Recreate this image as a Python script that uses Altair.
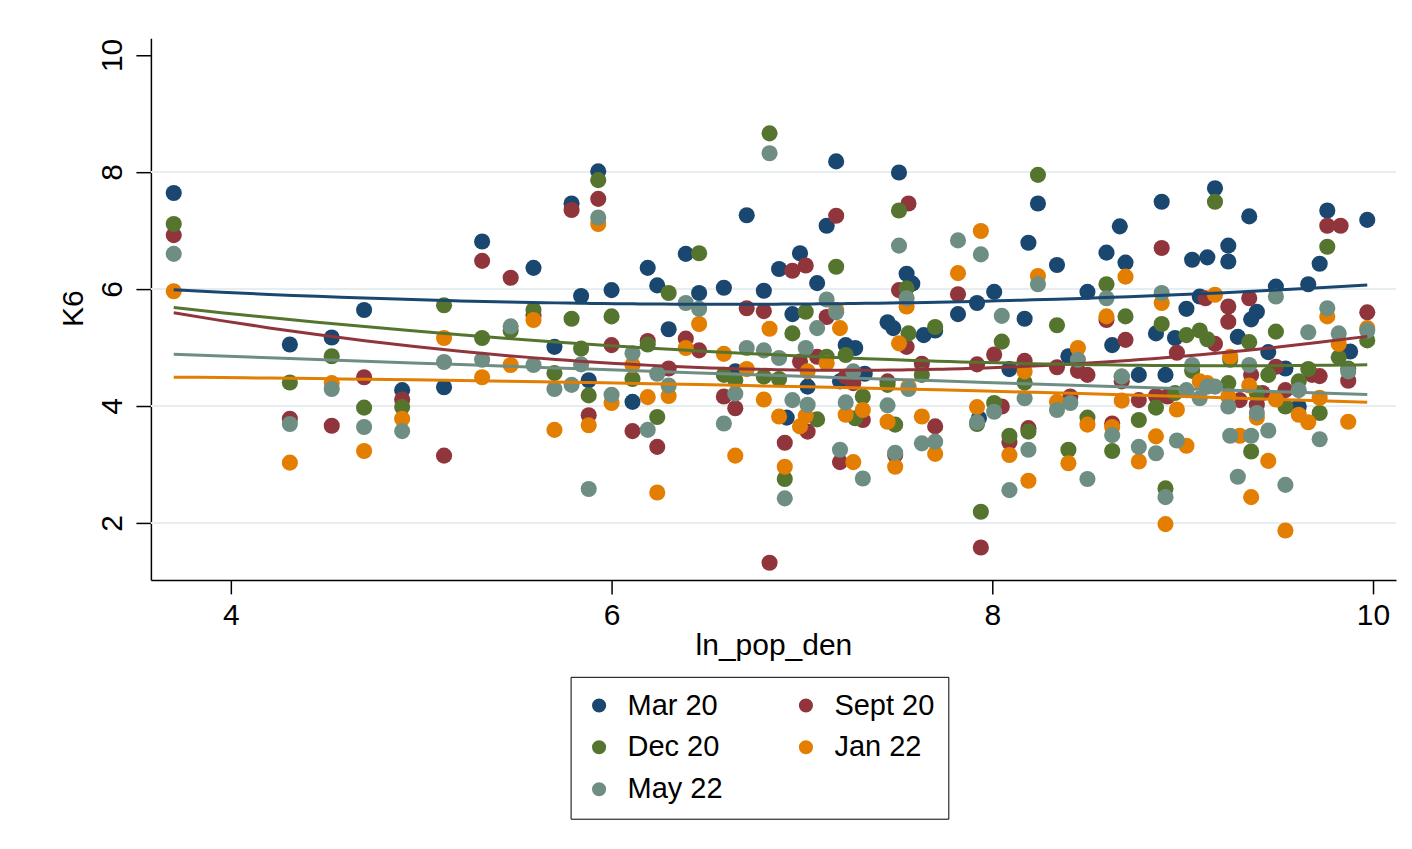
import altair as alt
import pandas as pd

FONT = "Liberation Sans, Arial, Helvetica, sans-serif"

series_names = ["Mar 20", "Sept 20", "Dec 20", "Jan 22", "May 22"]
series_colors = ["#1a476f", "#90353b", "#55752f", "#e37e00", "#6e8e84"]
# legend entries are laid out column by column: this order gives rows
# Mar 20 | Sept 20, Dec 20 | Jan 22, May 22
legend_order = ["Mar 20", "Dec 20", "May 22", "Sept 20", "Jan 22"]

x_ticks = [4, 6, 8, 10]
y_ticks = [2, 4, 6, 8, 10]
grid_levels = [2, 4, 6, 8]

mar20_x = [3.70, 4.31, 4.53, 4.70, 4.90, 5.12, 5.32, 5.59, 5.70, 5.79, 5.84, 5.88, 5.93, 6.00, 6.11, 6.19, 6.24,
           6.30, 6.39, 6.46, 6.59, 6.65, 6.71, 6.80, 6.88, 6.92, 6.95, 6.99, 7.03, 7.08, 7.13, 7.18, 7.20, 7.23,
           7.28, 7.33, 7.45, 7.48, 7.51, 7.55, 7.58, 7.64, 7.70, 7.82, 7.92, 7.93, 8.01, 8.09, 8.17, 8.19, 8.24,
           8.34, 8.40, 8.50, 8.60, 8.63, 8.67, 8.70, 8.77, 8.86, 8.89, 8.91, 8.96, 9.02, 9.05, 9.09, 9.13, 9.17,
           9.24, 9.24, 9.29, 9.35, 9.36, 9.39, 9.45, 9.49, 9.54, 9.61, 9.66, 9.72, 9.76, 9.88, 9.97]
mar20_y = [7.64, 5.05, 5.17, 5.64, 4.27, 4.32, 6.81, 6.36, 5.01, 7.46, 5.88, 4.44, 8.01, 5.98, 4.07, 6.36, 6.06,
           5.31, 6.60, 5.93, 6.02, 4.59, 7.26, 5.97, 6.34, 3.80, 5.57, 6.61, 4.33, 6.10, 7.08, 8.18, 4.42, 5.04,
           4.99, 4.55, 5.43, 5.33, 7.99, 6.26, 6.09, 5.21, 5.29, 5.57, 5.76, 3.79, 5.95, 4.63, 5.49, 6.79, 7.46,
           6.41, 4.85, 5.95, 6.62, 5.04, 7.07, 6.45, 4.53, 5.24, 7.49, 4.53, 5.16, 5.66, 6.50, 5.87, 6.54, 7.72,
           6.74, 6.47, 5.18, 7.24, 5.48, 5.61, 4.92, 6.04, 4.64, 3.99, 6.08, 6.43, 7.34, 4.93, 7.18]

sep20_x = [3.70, 4.31, 4.53, 4.70, 4.90, 5.12, 5.32, 5.47, 5.59, 5.79, 5.88, 5.93, 6.00, 6.11, 6.19, 6.24, 6.30,
           6.39, 6.46, 6.59, 6.65, 6.71, 6.80, 6.83, 6.91, 6.95, 6.99, 7.02, 7.03, 7.08, 7.13, 7.18, 7.20, 7.23,
           7.27, 7.32, 7.45, 7.49, 7.51, 7.55, 7.56, 7.63, 7.70, 7.82, 7.92, 7.94, 8.01, 8.05, 8.09, 8.17, 8.19,
           8.34, 8.41, 8.45, 8.50, 8.60, 8.63, 8.68, 8.70, 8.77, 8.86, 8.89, 8.92, 8.97, 9.12, 9.17, 9.24, 9.24,
           9.30, 9.35, 9.36, 9.39, 9.42, 9.49, 9.54, 9.68, 9.72, 9.76, 9.83, 9.87, 9.97]
sep20_y = [6.92, 3.78, 3.66, 4.49, 4.11, 3.15, 6.48, 6.19, 5.55, 7.35, 3.84, 7.54, 5.04, 3.57, 5.11, 3.30, 4.64,
           5.15, 4.95, 4.16, 3.96, 5.67, 5.62, 1.32, 3.37, 6.31, 4.76, 6.40, 3.56, 4.84, 5.52, 7.25, 3.04, 4.50,
           4.39, 3.76, 4.42, 3.16, 5.98, 5.01, 7.46, 4.72, 3.65, 5.91, 4.71, 1.58, 4.88, 3.99, 3.38, 4.77, 3.62,
           4.66, 4.16, 4.60, 4.53, 5.47, 3.70, 4.42, 5.13, 4.10, 4.17, 6.70, 4.16, 4.91, 5.84, 5.06, 5.70, 5.44,
           4.10, 5.84, 4.53, 4.02, 4.22, 4.67, 4.27, 4.53, 4.51, 7.08, 7.08, 4.43, 5.60]

dec20_x = [3.70, 4.31, 4.53, 4.70, 4.90, 5.12, 5.32, 5.47, 5.59, 5.70, 5.79, 5.84, 5.88, 5.93, 6.00, 6.11, 6.19,
           6.24, 6.30, 6.46, 6.59, 6.65, 6.80, 6.83, 6.88, 6.91, 6.95, 7.02, 7.08, 7.13, 7.18, 7.23, 7.28, 7.32,
           7.45, 7.49, 7.51, 7.55, 7.56, 7.63, 7.70, 7.92, 7.94, 8.01, 8.05, 8.09, 8.17, 8.19, 8.24, 8.34, 8.40,
           8.50, 8.60, 8.63, 8.68, 8.70, 8.77, 8.86, 8.89, 8.91, 8.96, 9.02, 9.05, 9.09, 9.13, 9.17, 9.24, 9.25,
           9.35, 9.36, 9.39, 9.45, 9.49, 9.54, 9.61, 9.66, 9.72, 9.76, 9.82, 9.87, 9.97]
dec20_y = [7.11, 4.40, 4.85, 3.97, 3.98, 5.72, 5.16, 5.29, 5.64, 4.56, 5.49, 4.98, 4.18, 7.86, 5.53, 4.46, 5.05,
           3.81, 5.93, 6.61, 4.53, 4.44, 4.50, 8.66, 4.46, 2.75, 5.24, 5.61, 3.77, 4.84, 6.38, 4.87, 3.79, 4.16,
           4.36, 3.68, 7.34, 6.01, 5.24, 4.53, 5.35, 3.69, 2.19, 4.05, 5.10, 3.49, 4.40, 3.56, 7.95, 5.38, 3.25,
           3.80, 6.08, 3.23, 4.50, 5.53, 3.76, 3.97, 5.40, 2.59, 4.22, 5.21, 4.60, 5.29, 5.14, 7.49, 4.39, 4.79,
           5.09, 3.22, 4.22, 4.53, 5.27, 3.99, 4.42, 4.63, 3.88, 6.72, 4.83, 4.64, 5.12]

jan22_x = [3.70, 4.31, 4.53, 4.70, 4.90, 5.12, 5.32, 5.47, 5.59, 5.70, 5.88, 5.93, 6.00, 6.11, 6.19, 6.24, 6.30,
           6.39, 6.46, 6.59, 6.65, 6.71, 6.80, 6.83, 6.88, 6.91, 6.99, 7.02, 7.03, 7.13, 7.18, 7.20, 7.23, 7.27,
           7.32, 7.45, 7.49, 7.51, 7.55, 7.56, 7.63, 7.70, 7.82, 7.92, 7.94, 8.09, 8.17, 8.19, 8.24, 8.34, 8.40,
           8.45, 8.50, 8.60, 8.63, 8.68, 8.70, 8.77, 8.86, 8.89, 8.91, 8.97, 9.02, 9.09, 9.13, 9.17, 9.24, 9.25,
           9.30, 9.35, 9.36, 9.39, 9.45, 9.49, 9.54, 9.61, 9.66, 9.72, 9.76, 9.82, 9.87, 9.97]
jan22_y = [5.96, 3.03, 4.39, 3.23, 3.78, 5.16, 4.49, 4.70, 5.47, 3.59, 3.67, 7.11, 4.05, 4.70, 4.15, 2.52, 4.17,
           4.99, 5.40, 4.89, 3.15, 4.63, 4.11, 5.32, 3.82, 2.96, 3.65, 3.83, 4.59, 4.73, 5.64, 5.33, 3.85, 3.04,
           3.93, 3.73, 2.96, 5.07, 5.70, 4.33, 3.82, 3.18, 6.27, 3.98, 6.99, 3.16, 4.59, 2.72, 6.22, 4.07, 3.02,
           4.99, 3.68, 5.53, 3.64, 4.09, 6.21, 3.05, 3.48, 5.76, 1.98, 3.94, 3.32, 4.42, 4.39, 5.90, 4.16, 4.84,
           3.49, 4.35, 2.44, 3.80, 3.06, 4.11, 1.87, 3.85, 3.72, 4.14, 5.53, 5.06, 3.73, 5.33]

may22_x = [3.70, 4.31, 4.53, 4.70, 4.90, 5.12, 5.32, 5.47, 5.59, 5.70, 5.79, 5.84, 5.88, 5.93, 6.00, 6.11, 6.19,
           6.24, 6.30, 6.39, 6.46, 6.59, 6.65, 6.71, 6.80, 6.83, 6.88, 6.91, 6.95, 7.02, 7.03, 7.08, 7.13, 7.18,
           7.20, 7.23, 7.27, 7.32, 7.45, 7.49, 7.51, 7.55, 7.56, 7.63, 7.70, 7.82, 7.92, 7.94, 8.01, 8.05, 8.09,
           8.17, 8.19, 8.24, 8.34, 8.41, 8.45, 8.50, 8.60, 8.63, 8.68, 8.77, 8.86, 8.89, 8.91, 8.97, 9.02, 9.05,
           9.09, 9.13, 9.17, 9.24, 9.25, 9.29, 9.35, 9.36, 9.39, 9.45, 9.49, 9.54, 9.61, 9.66, 9.72, 9.76, 9.82,
           9.87, 9.97]
may22_y = [6.60, 3.69, 4.29, 3.64, 3.57, 4.75, 4.79, 5.36, 4.70, 4.29, 4.36, 4.71, 2.58, 7.22, 4.19, 4.90, 3.59,
           4.55, 4.35, 5.76, 5.66, 3.70, 4.21, 4.99, 4.95, 8.32, 4.82, 2.42, 4.10, 4.99, 4.02, 5.33, 5.82, 5.60,
           3.25, 4.06, 4.59, 2.76, 4.01, 3.20, 6.74, 5.84, 4.29, 3.36, 3.39, 6.83, 3.72, 6.59, 3.90, 5.54, 2.56,
           4.13, 3.25, 6.08, 3.93, 4.05, 4.79, 2.75, 5.84, 3.50, 4.50, 3.30, 3.19, 5.93, 2.44, 3.41, 4.27, 4.70,
           4.13, 4.33, 4.33, 3.99, 3.49, 2.79, 4.70, 3.49, 3.88, 3.58, 5.87, 2.65, 4.27, 5.26, 3.43, 5.67, 5.24,
           4.59, 5.29]

series_data = [
    ("Mar 20", mar20_x, mar20_y),
    ("Sept 20", sep20_x, sep20_y),
    ("Dec 20", dec20_x, dec20_y),
    ("Jan 22", jan22_x, jan22_y),
    ("May 22", may22_x, may22_y),
]

rows = []
for name, xs, ys in series_data:
    assert len(xs) == len(ys), name
    for xv, yv in zip(xs, ys):
        rows.append({"ln_pop_den": xv, "K6": yv, "series": name})
df = pd.DataFrame(rows)
grid_df = pd.DataFrame({"level": grid_levels})

x_scale = alt.Scale(domain=[3.58, 10.121], nice=False, zero=False)
y_scale = alt.Scale(domain=[1.026, 10.285], nice=False, zero=False)
color_scale = alt.Scale(domain=series_names, range=series_colors)

x_axis = alt.Axis(
    values=x_ticks, format="d", grid=False, tickSize=14, tickColor="black", tickWidth=1.5,
    domainColor="black", domainWidth=1.5, labelFont=FONT, labelFontSize=30, labelColor="black",
    labelBaseline="alphabetic", labelPadding=31, labelFlush=False,
    title="ln_pop_den", titleFont=FONT, titleFontSize=30, titleFontWeight="normal", titleColor="black",
    titleBaseline="alphabetic", titleY=75,
)
y_axis = alt.Axis(
    values=y_ticks, format="d", grid=False, tickSize=15, tickColor="black", tickWidth=1.5,
    domainColor="black", domainWidth=1.5, labelFont=FONT, labelFontSize=30, labelColor="black",
    labelAngle=270, labelAlign="center", labelBaseline="alphabetic", labelPadding=14, labelFlush=False,
    title="K6", titleFont=FONT, titleFontSize=30, titleFontWeight="normal", titleColor="black",
    titleAngle=270, titleAlign="center", titleBaseline="alphabetic", titleX=-68, titleY=270,
)

grid = alt.Chart(grid_df).mark_rule(color="#e6eef1", strokeWidth=2).encode(
    y=alt.Y("level:Q", scale=y_scale, axis=y_axis)
)

points = alt.Chart(df).mark_circle(size=260, opacity=1).encode(
    x=alt.X("ln_pop_den:Q", scale=x_scale, axis=x_axis),
    y=alt.Y("K6:Q", scale=y_scale, axis=y_axis),
    color=alt.Color(
        "series:N", scale=color_scale, sort=series_names,
        legend=alt.Legend(
            orient="none", legendX=420, legendY=639, title=None, columns=2,
            values=legend_order,
            symbolType="circle", symbolSize=200, symbolStrokeWidth=0, symbolOpacity=1,
            labelFont=FONT, labelFontSize=29, labelColor="black", labelOffset=14,
            columnPadding=68, rowPadding=12, padding=14,
            strokeColor="black", fillColor="white",
        ),
    ),
)

fits = alt.Chart(df).transform_regression(
    "ln_pop_den", "K6", groupby=["series"], method="poly", order=2
).mark_line(strokeWidth=3).encode(
    x=alt.X("ln_pop_den:Q", scale=x_scale, axis=x_axis),
    y=alt.Y("K6:Q", scale=y_scale, axis=y_axis),
    color=alt.Color("series:N", scale=color_scale, sort=series_names, legend=None),
)

chart = alt.layer(grid, points, fits).resolve_legend(color="independent").properties(
    width=1246, height=542,
    autosize=alt.AutoSizeParams(type="none"),
    padding={"left": 143, "top": 30, "right": 8, "bottom": 263},
    background="white",
).configure_view(stroke=None)

chart.save("out.html", embed_options={"renderer": "svg", "actions": False})
